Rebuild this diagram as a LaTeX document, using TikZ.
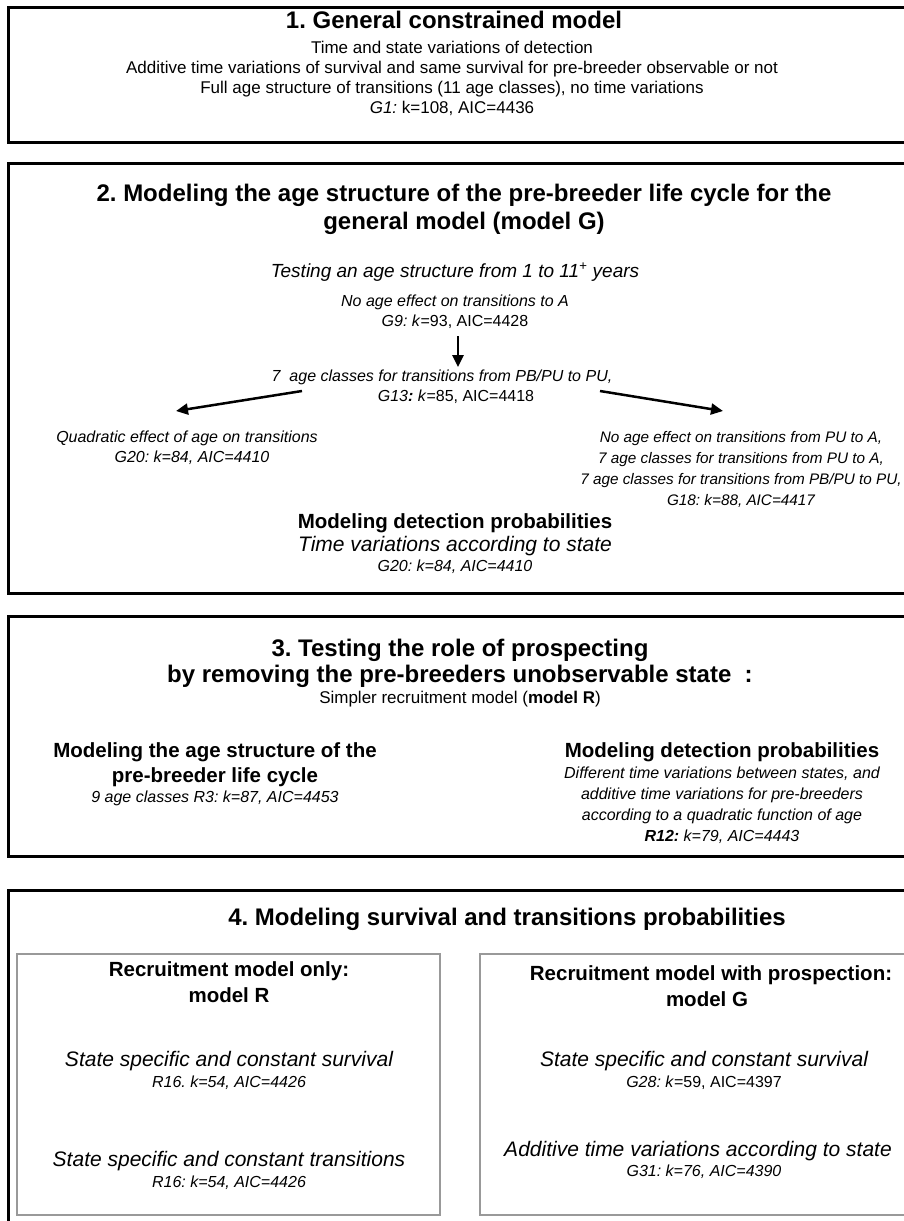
\documentclass[tikz,border=0pt]{standalone}
\usepackage{fontspec}
\setmainfont{Liberation Sans}
\usetikzlibrary{arrows.meta}
\frenchspacing
\begin{document}
\begin{tikzpicture}[x=1pt,y=-1pt,
  box/.style={draw=black, line width=3pt},
  inbox/.style={draw=black!40, line width=2pt},
  ttl/.style={inner sep=0pt, anchor=center, text height=18pt, text depth=5pt, font=\fontsize{24}{28}\selectfont\bfseries},
  sub/.style={inner sep=0pt, anchor=center, text height=15pt, text depth=4.5pt, font=\fontsize{20.5}{24}\selectfont\bfseries},
  body/.style={inner sep=0pt, anchor=center, text height=12.5pt, text depth=3.7pt, font=\fontsize{17}{20}\selectfont},
  itl/.style={inner sep=0pt, anchor=center, text height=15pt, text depth=4.5pt, font=\fontsize{21}{24}\selectfont\itshape},
  itm/.style={inner sep=0pt, anchor=center, text height=14pt, text depth=4pt, font=\fontsize{19}{22}\selectfont\itshape},
  sm/.style={inner sep=0pt, anchor=center, text height=11.6pt, text depth=3.4pt, font=\fontsize{16}{19}\selectfont\itshape},
  smu/.style={sm, font=\fontsize{16}{19}\selectfont},
  smr/.style={sm, font=\fontsize{15.3}{18}\selectfont\itshape},
  arr/.style={line width=2.5pt, -{Triangle[length=12pt,width=11pt]}}
]
\useasboundingbox (0,0) rectangle (904,1221);
% frames
\draw[box] (8,7) rectangle (930,142);
\draw[box] (8,163) rectangle (930,593);
\draw[box] (8,616) rectangle (930,856);
\draw[box] (8,890) rectangle (930,1240);
\draw[inbox] (17,954) rectangle (440,1215);
\draw[inbox] (480,954) rectangle (930,1215);

% box 1
\node[ttl] (b1t) at (454,22) {1. General constrained model};
\node[body] (b1a) at (452,49) {Time and state variations of detection};
\node[body] (b1b) at (452,69) {Additive time variations of survival and same survival for pre-breeder observable or not};
\node[body] (b1c) at (452,89) {Full age structure of transitions (11 age classes), no time variations};
\node[body] (b1d) at (452,109) {\textit{G1:} k=108, AIC=4436};

% box 2
\node[ttl] (b2t1) at (464,195) {2. Modeling the age structure of the pre-breeder life cycle for the};
\node[ttl] (b2t2) at (464,223) {general model (model G)};
\node[itm] (b2test) at (455,272) {Testing an age structure from 1 to 11\textsuperscript{+} years};
\node[sm] (g9a) at (455,302) {No age effect on transitions to A};
\node[smu] (g9b) at (455,322) {\textit{G9: k}=93, AIC=4428};
\node[sm] (g13a) at (442,377) {7 \ age classes for transitions from PB/PU to PU,};
\node[smu] (g13b) at (456,397) {\textit{G13\textbf{:} k}=85, AIC=4418};
\node[sm] (g20a) at (187,438) {Quadratic effect of age on transitions};
\node[sm] (g20b) at (192,458) {G20: k=84, AIC=4410};
\node[smr] (g18a) at (741,438) {No age effect on transitions from PU to A,};
\node[smr] (g18b) at (741,459) {7 age classes for transitions from PU to A,};
\node[smr] (g18c) at (741,480) {7 age classes for transitions from PB/PU to PU,};
\node[smr] (g18d) at (741,501) {G18: k=88, AIC=4417};
\node[sub] (b2det) at (455,523) {Modeling detection probabilities};
\node[itl] (b2tv) at (455,546) {Time variations according to state};
\node[sm] (b2g20) at (455,567) {G20: k=84, AIC=4410};

\coordinate (aV0) at (458,336);
\coordinate (aV1) at (458,367);
\coordinate (aL0) at (302,391);
\coordinate (aL1) at (176,411);
\coordinate (aR0) at (600,391);
\coordinate (aR1) at (723,411);
\draw[arr] (aV0) -- (aV1);
\draw[arr] (aL0) -- (aL1);
\draw[arr] (aR0) -- (aR1);

% box 3
\node[ttl] (b3t1) at (460,650) {3. Testing the role of prospecting};
\node[ttl] (b3t2) at (460,676) {by removing the pre-breeders unobservable state \ :};
\node[body] (b3s) at (460,699) {Simpler recruitment model (\textbf{model R})};
\node[sub] (b3La) at (215,752) {Modeling the age structure of the};
\node[sub] (b3Lb) at (215,777) {pre-breeder life cycle};
\node[sm] (b3Lc) at (215,798) {9 age classes R3: k=87, AIC=4453};
\node[sub] (b3Ra) at (722,752) {Modeling detection probabilities};
\node[sm] (b3Rb) at (722,774) {Different time variations between states, and};
\node[sm] (b3Rc) at (722,795) {additive time variations for pre-breeders};
\node[sm] (b3Rd) at (722,816) {according to a quadratic function of age};
\node[sm] (b3Re) at (722,837) {\textbf{R12:} k=79, AIC=4443};

% box 4
\node[ttl] (b4t) at (507,919) {4. Modeling survival and transitions probabilities};
\node[sub] (b4La) at (229,971) {Recruitment model only:};
\node[sub] (b4Lb) at (229,997) {model R};
\node[itl] (b4Lc) at (229,1061) {State specific and constant survival};
\node[sm] (b4Ld) at (229,1083) {R16. k=54, AIC=4426};
\node[itl] (b4Le) at (229,1161) {State specific and constant transitions};
\node[sm] (b4Lf) at (229,1183) {R16: k=54, AIC=4426};
\node[sub] (b4Ra) at (711,975) {Recruitment model with prospection:};
\node[sub] (b4Rb) at (707,1001) {model G};
\node[itl] (b4Rc) at (704,1061) {State specific and constant survival};
\node[smu] (b4Rd) at (704,1083) {\textit{G28: k}=59, AIC=4397};
\node[itl] (b4Re) at (698,1151) {Additive time variations according to state};
\node[sm] (b4Rf) at (704,1172) {G31: k=76, AIC=4390};
\end{tikzpicture}
\end{document}
